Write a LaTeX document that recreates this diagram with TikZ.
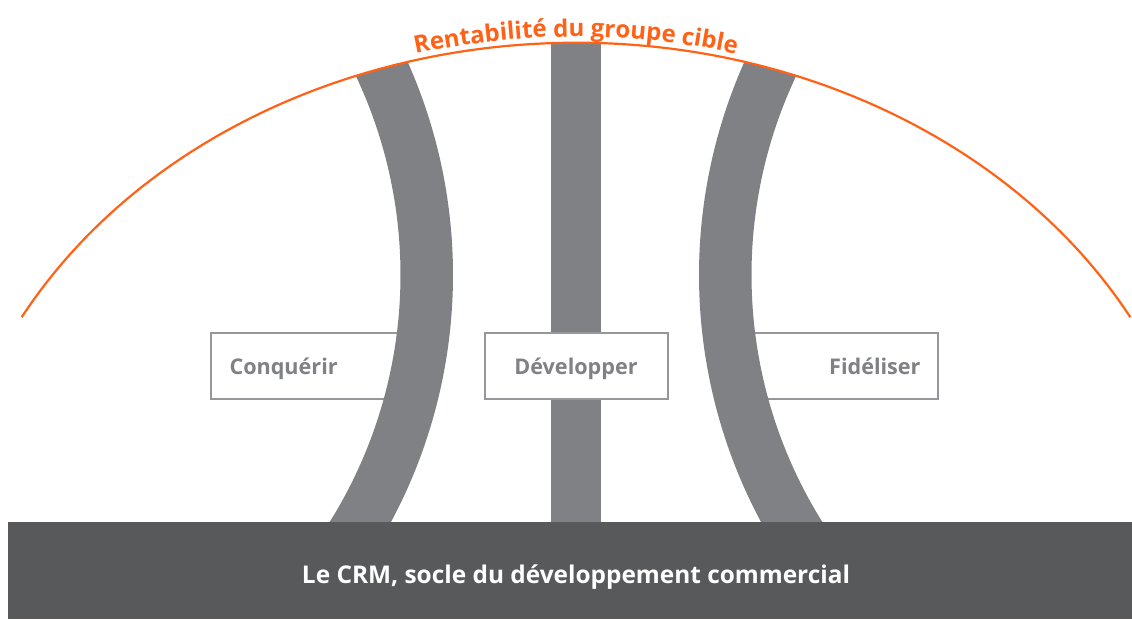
\documentclass[tikz,border=0pt]{standalone}
\usepackage{fontspec}
\setmainfont{Open Sans}
\usepackage{tikz}
\usetikzlibrary{positioning, decorations.text, calc}

\definecolor{crmorange}{RGB}{255,98,22}
\definecolor{pillargray}{RGB}{128,129,133}
\definecolor{framegray}{RGB}{150,151,154}
\definecolor{basegray}{RGB}{88,89,91}

\tikzset{
    stagebox/.style={draw=framegray, line width=2pt, fill=white, inner ysep=0pt,
        minimum height=66pt, text height=20pt, text depth=2pt,
        text=pillargray, font=\bfseries\fontsize{21.6}{21}\selectfont},
    basetext/.style={text=white, font=\bfseries\fontsize{24.4}{24}\selectfont},
}

\begin{document}
\begin{tikzpicture}[x=1pt, y=1pt]
    \useasboundingbox (0,0) rectangle (1132,619);
    \coordinate (hub) at (576,48.2);

    % middle pillar
    \begin{scope}
        \clip (hub) ellipse [x radius=632, y radius=528];
        \fill[pillargray] (551,0) rectangle (601,600);
    \end{scope}

    \node[stagebox, text width=145pt, inner xsep=19pt, align=center] (dev) at (576,253) {Développer};
    \node[stagebox, text width=152pt, inner xsep=19pt, align=left, left=82pt of dev] (conq) {Conquérir};
    \node[stagebox, text width=152pt, inner xsep=17pt, align=right, right=82pt of dev] (fid) {Fidéliser};

    % curved side pillars
    \begin{scope}
        \clip (hub) ellipse [x radius=632, y radius=528];
        \foreach \s in {1,-1} {
            \begin{scope}[shift={(576,0)}, xscale=\s]
                \fill[pillargray] ($(-641.5,344)+(30:466)$) arc[start angle=30, end angle=-35, radius=466]
                    -- ($(-646,344)+(-32:523)$) arc[start angle=-32, end angle=28, radius=523] -- cycle;
            \end{scope}
        }
    \end{scope}

    % profitability arc
    \draw[crmorange, line width=2.2pt] ($(hub)+(151.3:632 and 528)$) arc[start angle=151.3, end angle=28.7, x radius=632, y radius=528];
    \path[decorate, decoration={text along path, text align=center, text color=crmorange,
        text={|\bfseries\fontsize{24}{24}\selectfont|Rentabilité du groupe cible}}]
        ($(hub)+(140:638 and 534)$) arc[start angle=140, end angle=40, x radius=638, y radius=534];

    % base
    \fill[basegray] (8,0) rectangle (1132,97);
    \node[basetext, anchor=base] (socle) at (576,36) {Le CRM, socle du développement commercial};
\end{tikzpicture}
\end{document}
